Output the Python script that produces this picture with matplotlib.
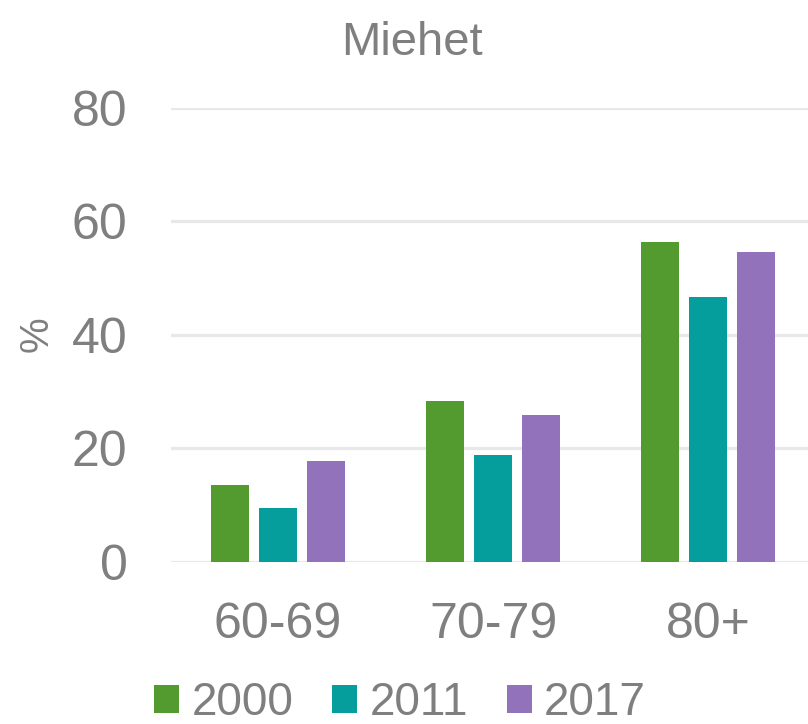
import matplotlib
matplotlib.use("Agg")
import matplotlib.pyplot as plt
import numpy as np

categories = ["60-69", "70-79", "80+"]
years = ["2000", "2011", "2017"]
v2000 = [13.5, 28.3, 56.3]
v2011 = [9.4, 18.8, 46.7]
v2017 = [17.7, 25.9, 54.6]
yticks = [0, 20, 40, 60, 80]

colors = ["#539a2f", "#069e9c", "#9272bb"]
txt = "#7f7f7f"

plt.rcParams['font.family'] = ['Liberation Sans', 'DejaVu Sans']

fig = plt.figure(figsize=(8.08, 7.24), dpi=100)
ax = fig.add_axes([170.5/808, (724-561.7)/724, 1 - 170.5/808, (561.7-107.7)/724])

x = np.arange(len(categories))
w = 0.177
step = 0.223
for i, (vals, c, lab) in enumerate(zip([v2000, v2011, v2017], colors, years)):
    ax.bar(x + (i-1)*step, vals, width=w, color=c, label=lab, zorder=3)

ax.set_xlim(-0.5, 2 + (808-708)/215)
ax.set_ylim(0, 80)
ax.set_yticks(yticks)
ax.set_xticks(x)
ax.set_xticklabels(categories)
ax.yaxis.grid(True, color="#e8e8e8", linewidth=2.3, zorder=0)
ax.set_axisbelow(True)
for s in ax.spines.values():
    s.set_visible(False)
ax.tick_params(axis='both', length=0, labelsize=36, colors=txt)
ax.tick_params(axis='y', pad=31)
ax.tick_params(axis='x', pad=29)
fig.text(37/808, 1 - 334/724, "%", fontsize=29, color=txt, rotation=90,
         ha="center", va="center")
ax.set_title("Miehet", fontsize=34, color=txt, pad=38, x=(412-170.5)/(808-170.5))

leg = fig.legend(loc="center", bbox_to_anchor=(400/808, 1 - 703/724), ncol=3, frameon=False,
                 fontsize=33, handlelength=0.55, handleheight=0.55, handletextpad=0.26,
                 columnspacing=0.85, labelcolor=txt)

fig.savefig("out.png", dpi=100)
